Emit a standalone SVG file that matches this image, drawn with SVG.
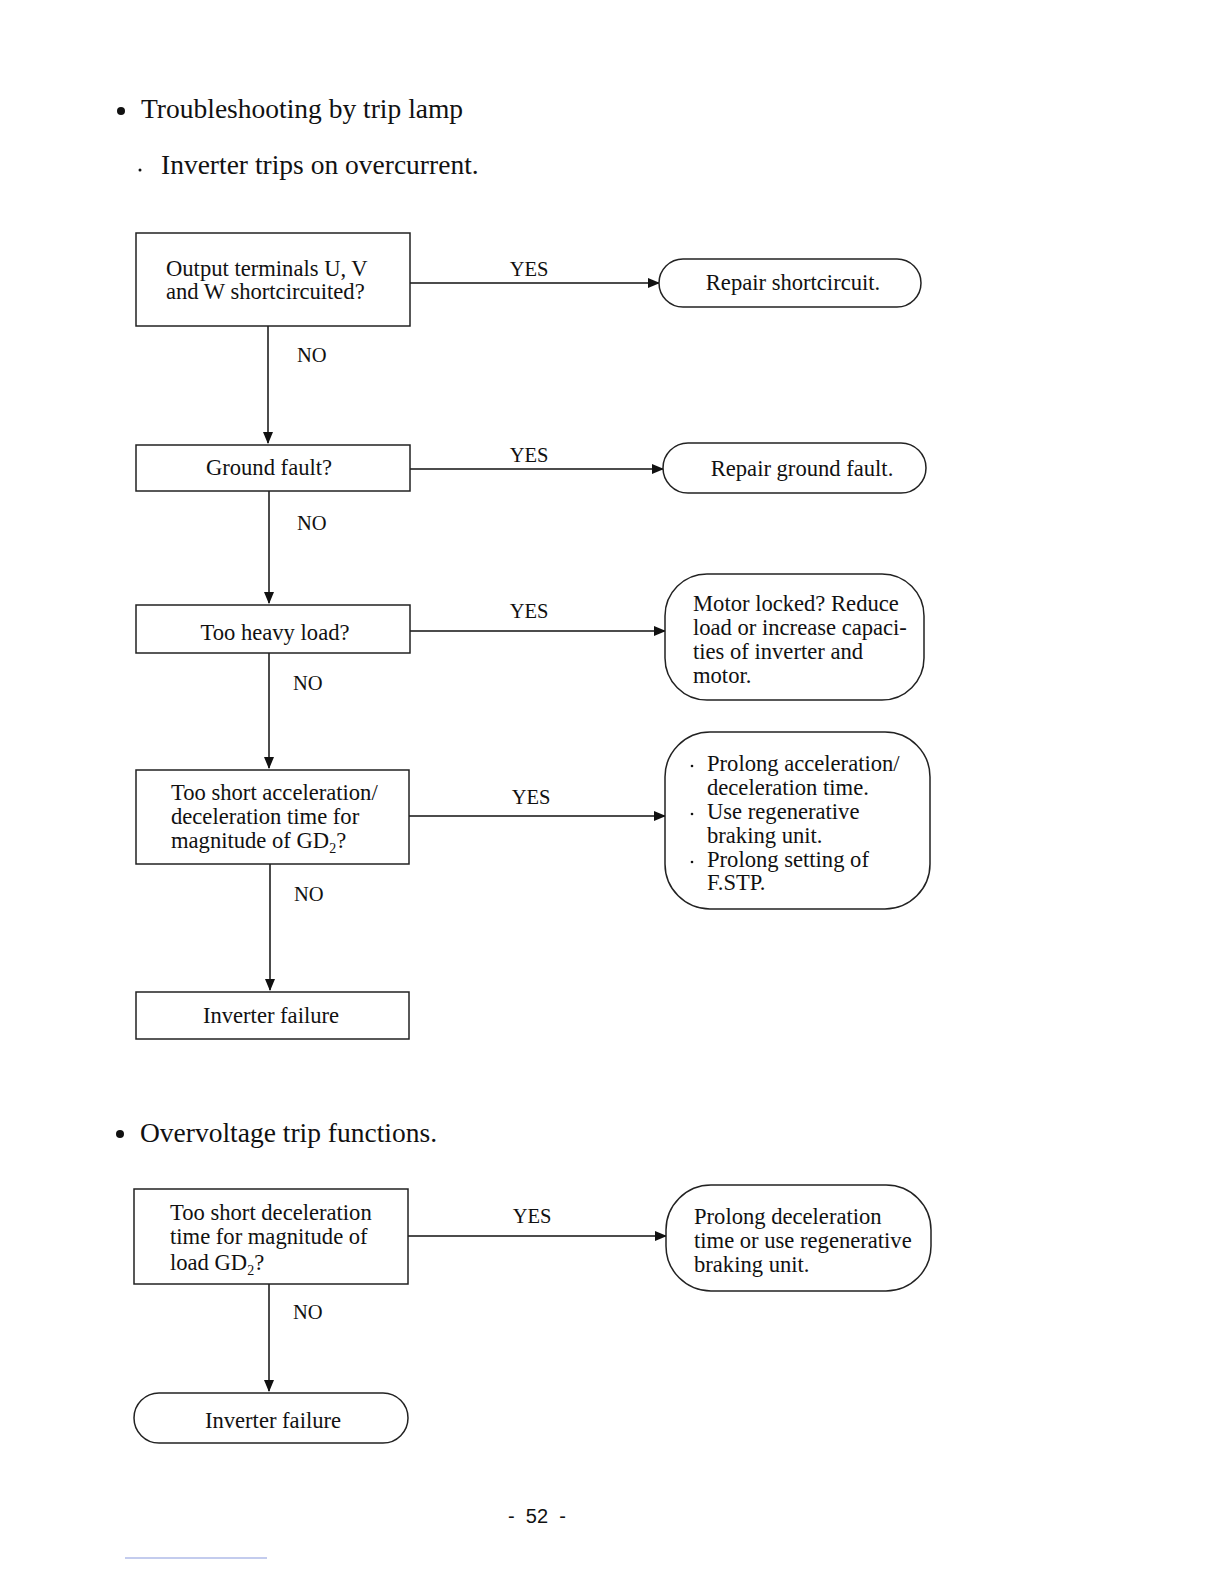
<svg xmlns="http://www.w3.org/2000/svg" width="1224" height="1584" viewBox="0 0 1224 1584">
<defs>
<marker id="ah" markerWidth="12" markerHeight="10" refX="11" refY="5" orient="auto" markerUnits="userSpaceOnUse">
<path d="M0,0 L12,5 L0,10 z" fill="#111"/>
</marker>
<style>
.t{font-family:"Liberation Serif","Times New Roman",serif;font-size:22.6px;fill:#111}
.h{font-family:"Liberation Serif","Times New Roman",serif;font-size:27.5px;fill:#111}
.l{font-family:"Liberation Serif","Times New Roman",serif;font-size:20.5px;fill:#111}
.box{fill:#fff;stroke:#222;stroke-width:1.5}
.c{stroke:#111;stroke-width:1.5;fill:none;marker-end:url(#ah)}
.m{text-anchor:middle}
</style>
</defs>
<rect width="1224" height="1584" fill="#fff"/>

<circle cx="121" cy="111" r="4" fill="#111"/>
<text class="h" x="141" y="118">Troubleshooting by trip lamp</text>
<circle cx="140" cy="170" r="1.5" fill="#111"/>
<text class="h" x="161" y="174" style="font-size:27.5px">Inverter trips on overcurrent.</text>

<g id="connectors">
<line class="c" x1="410" y1="283" x2="659" y2="283"/>
<line class="c" x1="268" y1="326" x2="268" y2="443"/>
<line class="c" x1="410" y1="469" x2="663" y2="469"/>
<line class="c" x1="269" y1="491" x2="269" y2="603"/>
<line class="c" x1="410" y1="631" x2="665" y2="631"/>
<line class="c" x1="269" y1="653" x2="269" y2="768"/>
<line class="c" x1="409" y1="816" x2="665" y2="816"/>
<line class="c" x1="270" y1="864" x2="270" y2="990"/>
<line class="c" x1="408" y1="1236" x2="666" y2="1236"/>
<line class="c" x1="269" y1="1284" x2="269" y2="1391"/>
<text class="l m" x="529" y="276">YES</text>
<text class="l" x="297" y="362">NO</text>
<text class="l m" x="529" y="462">YES</text>
<text class="l" x="297" y="530">NO</text>
<text class="l m" x="529" y="618">YES</text>
<text class="l" x="293" y="690">NO</text>
<text class="l m" x="531" y="804">YES</text>
<text class="l" x="294" y="901">NO</text>
<text class="l m" x="532" y="1223">YES</text>
<text class="l" x="293" y="1319">NO</text>
</g>

<g id="q1">
<rect class="box" x="136" y="233" width="274" height="93"/>
<text class="t" x="166" y="276">Output terminals U, V</text>
<text class="t" x="166" y="299">and W shortcircuited?</text>
</g>
<g id="a1">
<rect class="box" x="659" y="259" width="262" height="48" rx="24"/>
<text class="t m" x="793" y="290">Repair shortcircuit.</text>
</g>

<g id="q2">
<rect class="box" x="136" y="445" width="274" height="46"/>
<text class="t m" x="269" y="475">Ground fault?</text>
</g>
<g id="a2">
<rect class="box" x="663" y="443" width="263" height="50" rx="25"/>
<text class="t m" x="802" y="476">Repair ground fault.</text>
</g>

<g id="q3">
<rect class="box" x="136" y="605" width="274" height="48"/>
<text class="t m" x="275" y="640">Too heavy load?</text>
</g>
<g id="a3">
<rect class="box" x="665" y="574" width="259" height="126" rx="42"/>
<text class="t" x="693" y="611">Motor locked?  Reduce</text>
<text class="t" x="693" y="635">load or increase capaci-</text>
<text class="t" x="693" y="659">ties of inverter and</text>
<text class="t" x="693" y="683">motor.</text>
</g>

<g id="q4">
<rect class="box" x="136" y="770" width="273" height="94"/>
<text class="t" x="171" y="800">Too short acceleration/</text>
<text class="t" x="171" y="824">deceleration time for</text>
<text class="t" x="171" y="848">magnitude of GD<tspan dy="5" font-size="14">2</tspan><tspan dy="-5">?</tspan></text>
</g>
<g id="a4">
<rect class="box" x="665" y="732" width="265" height="177" rx="45"/>
<circle cx="692" cy="766" r="1.3" fill="#111"/>
<circle cx="692" cy="814" r="1.3" fill="#111"/>
<circle cx="692" cy="862" r="1.3" fill="#111"/>
<text class="t" x="707" y="771">Prolong  acceleration/</text>
<text class="t" x="707" y="795">deceleration time.</text>
<text class="t" x="707" y="819">Use regenerative</text>
<text class="t" x="707" y="843">braking unit.</text>
<text class="t" x="707" y="867">Prolong setting of</text>
<text class="t" x="707" y="890">F.STP.</text>
</g>

<g id="q5">
<rect class="box" x="136" y="992" width="273" height="47"/>
<text class="t m" x="271" y="1023">Inverter failure</text>
</g>

<circle cx="120" cy="1134" r="4" fill="#111"/>
<text class="h" x="140" y="1142">Overvoltage trip functions.</text>

<g id="q6">
<rect class="box" x="134" y="1189" width="274" height="95"/>
<text class="t" x="170" y="1220">Too short deceleration</text>
<text class="t" x="170" y="1244">time for magnitude of</text>
<text class="t" x="170" y="1270">load GD<tspan dy="5" font-size="14">2</tspan><tspan dy="-5">?</tspan></text>
</g>
<g id="a6">
<rect class="box" x="666" y="1185" width="265" height="106" rx="45"/>
<text class="t" x="694" y="1224">Prolong deceleration</text>
<text class="t" x="694" y="1248">time or use regenerative</text>
<text class="t" x="694" y="1272">braking unit.</text>
</g>
<g id="t7">
<rect class="box" x="134" y="1393" width="274" height="50" rx="25"/>
<text class="t m" x="273" y="1428">Inverter failure</text>
</g>

<text x="537" y="1523" text-anchor="middle" style="font-family:'Liberation Sans',Arial,sans-serif;font-size:20px;fill:#111;white-space:pre" xml:space="preserve">-  52  -</text>
<line x1="125" y1="1558" x2="267" y2="1558" stroke="#8899dd" stroke-width="1"/>
</svg>
